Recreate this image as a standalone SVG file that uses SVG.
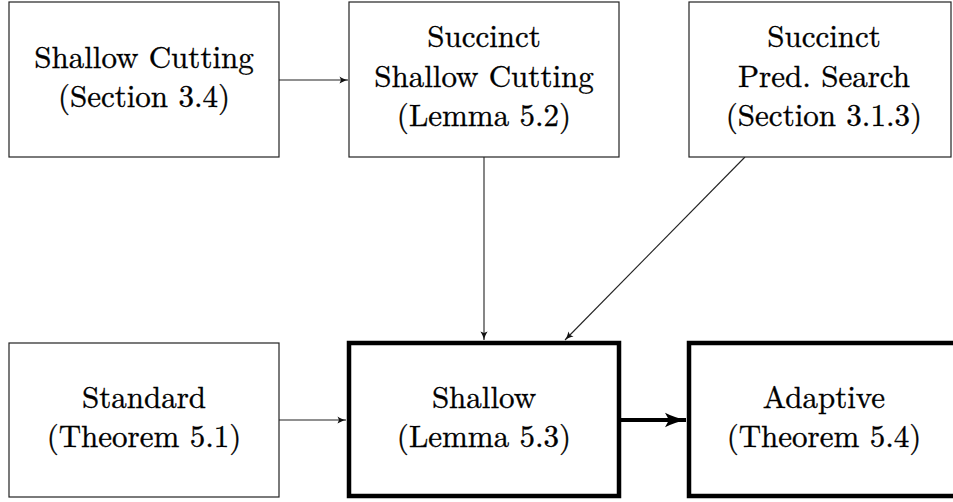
<svg xmlns="http://www.w3.org/2000/svg" width="953" height="502" viewBox="0 0 953 502">
  <style>
    .box { fill: #ffffff; stroke: #222222; stroke-width: 1.2; }
    .bold { fill: #ffffff; stroke: #000000; stroke-width: 4.5; }
    .lbl { font-size: 31px; fill: #000000; stroke: #000000; stroke-width: 0.35; text-anchor: middle; }
    .edge { fill: none; stroke: #222222; stroke-width: 1.1; }
    .edge-bold { fill: none; stroke: #000000; stroke-width: 4; }
  </style>
  <defs>
    <marker id="tip" markerUnits="userSpaceOnUse" viewBox="-9 -5 10 10" refX="0" refY="0" markerWidth="10" markerHeight="10" orient="auto">
      <path d="M0,0 C-3,-0.6 -6,-2 -8.5,-3.6 L-7,0 L-8.5,3.6 C-6,2 -3,0.6 0,0 Z" fill="#111111"/>
    </marker>
    <marker id="tip-bold" markerUnits="userSpaceOnUse" viewBox="-22 -8 23 16" refX="0" refY="0" markerWidth="23" markerHeight="16" orient="auto">
      <path d="M0,0 C-7,-1.5 -15,-4 -21,-7.2 L-17,0 L-21,7.2 C-15,4 -7,1.5 0,0 Z" fill="#000000"/>
    </marker>
  </defs>

  <g id="connectors">
    <line class="edge" x1="279" y1="80" x2="348" y2="80" marker-end="url(#tip)"/>
    <line class="edge" x1="484" y1="157" x2="484" y2="340" marker-end="url(#tip)"/>
    <line class="edge" x1="745" y1="157" x2="565" y2="340" marker-end="url(#tip)"/>
    <line class="edge" x1="279" y1="420" x2="346" y2="420" marker-end="url(#tip)"/>
    <line class="edge-bold" x1="621" y1="420" x2="686" y2="420" marker-end="url(#tip-bold)"/>
  </g>

  <g font-family="'Latin Modern Roman', 'Liberation Serif', serif">
    <g id="shallow-cutting">
      <rect class="box" x="9" y="2" width="270" height="155"/>
      <text class="lbl" x="144" y="68">Shallow Cutting</text>
      <text class="lbl" x="144" y="107">(Section 3.4)</text>
    </g>

    <g id="succinct-shallow-cutting">
      <rect class="box" x="349" y="2" width="270" height="155"/>
      <text class="lbl" x="484" y="47">Succinct</text>
      <text class="lbl" x="484" y="87">Shallow Cutting</text>
      <text class="lbl" x="484" y="126">(Lemma 5.2)</text>
    </g>

    <g id="succinct-pred-search">
      <rect class="box" x="689" y="2" width="262" height="155"/>
      <text class="lbl" x="824" y="47">Succinct</text>
      <text class="lbl" x="824" y="87">Pred. Search</text>
      <text class="lbl" x="824" y="126">(Section 3.1.3)</text>
    </g>

    <g id="standard">
      <rect class="box" x="9" y="343" width="270" height="154"/>
      <text class="lbl" x="144" y="408">Standard</text>
      <text class="lbl" x="144" y="447">(Theorem 5.1)</text>
    </g>

    <g id="shallow">
      <rect class="bold" x="349" y="343" width="270" height="153"/>
      <text class="lbl" x="484" y="408">Shallow</text>
      <text class="lbl" x="484" y="447">(Lemma 5.3)</text>
    </g>

    <g id="adaptive">
      <rect class="bold" x="689" y="343" width="270" height="153"/>
      <text class="lbl" x="824" y="408">Adaptive</text>
      <text class="lbl" x="824" y="447">(Theorem 5.4)</text>
    </g>
  </g>
</svg>
